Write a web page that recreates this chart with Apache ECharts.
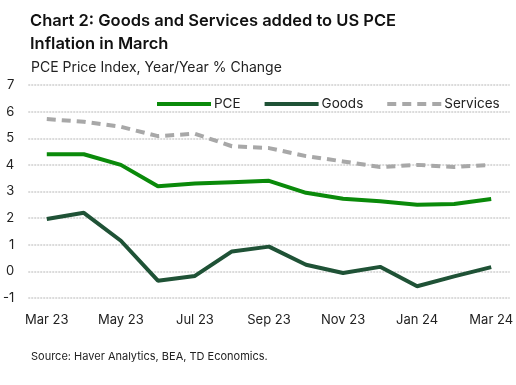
<!DOCTYPE html>
<html><head><meta charset="utf-8">
<script src="https://cdn.jsdelivr.net/npm/echarts@6/dist/echarts.min.js"></script>
<style>html,body{margin:0;padding:0;background:#fff}#c{width:516px;height:385px}</style>
</head><body><div id="c"></div>
<script>
var categories = ['Mar 23','Apr 23','May 23','Jun 23','Jul 23','Aug 23','Sep 23','Oct 23','Nov 23','Dec 23','Jan 24','Feb 24','Mar 24'];
var pce = [4.4, 4.4, 4.0, 3.2, 3.3, 3.35, 3.4, 2.95, 2.73, 2.63, 2.5, 2.53, 2.72];
var goods = [1.97, 2.2, 1.15, -0.35, -0.17, 0.75, 0.93, 0.25, -0.06, 0.17, -0.56, -0.19, 0.16];
var services = [5.72, 5.62, 5.43, 5.08, 5.17, 4.7, 4.63, 4.33, 4.13, 3.92, 4.0, 3.92, 4.0];
var yTicks = {min: -1, max: 7, interval: 1};
var FONT = 'Inter';
var dashIcon = 'path://M0,0h9v4h-9z M15,0h9v4h-9z M30,0h9v4h-9z M45,0h9v4h-9z';
var chart = echarts.init(document.getElementById('c'));
chart.setOption({
  animation: false,
  textStyle: {fontFamily: FONT},
  title: [
    {text: 'Chart 2: Goods and Services added to US PCE\nInflation in March', left: 25, top: 5,
     textStyle: {fontFamily: FONT, fontSize: 16.5, fontWeight: 600, color: '#111', lineHeight: 23}},
    {text: 'PCE Price Index, Year/Year % Change', left: 26, top: 56,
     textStyle: {fontFamily: FONT, fontSize: 14, fontWeight: 'normal', color: '#222'}},
    {text: 'Source: Haver Analytics, BEA, TD Economics.', left: 26, top: 346,
     textStyle: {fontFamily: FONT, fontSize: 11, fontWeight: 'normal', color: '#222'}}
  ],
  legend: {
    top: 92, left: 152, itemWidth: 54, itemHeight: 4, itemGap: 24,
    textStyle: {fontFamily: FONT, fontSize: 13.5, color: '#222', padding: [0,0,0,-2]},
    data: [
      {name: 'PCE', icon: 'rect'},
      {name: 'Goods', icon: 'rect'},
      {name: 'Services', icon: dashIcon}
    ]
  },
  grid: {left: 27, right: 6, top: 85, bottom: 87},
  xAxis: {
    type: 'category', data: categories, boundaryGap: true,
    axisLine: {show: false}, axisTick: {show: false},
    axisLabel: {interval: 1, color: '#222', fontSize: 13, margin: 16, fontFamily: FONT}
  },
  yAxis: {
    type: 'value', min: yTicks.min, max: yTicks.max, interval: yTicks.interval,
    axisLine: {show: false}, axisTick: {show: false},
    axisLabel: {color: '#222', fontSize: 13, margin: 14, fontFamily: FONT},
    splitLine: {lineStyle: {color: '#cfcfcf', width: 1.5, type: [2, 1]}}
  },
  series: [
    {name: 'PCE', type: 'line', data: pce, symbol: 'none', color: '#0a8a0a',
     lineStyle: {width: 4, color: '#0a8a0a'}, z: 3},
    {name: 'Goods', type: 'line', data: goods, symbol: 'none', color: '#1f5236',
     lineStyle: {width: 4, color: '#1f5236'}, z: 4},
    {name: 'Services', type: 'line', data: services, symbol: 'none', color: '#a8a8a8',
     lineStyle: {width: 4, color: '#a8a8a8', type: [9, 6]}, z: 2}
  ]
});
</script></body></html>
